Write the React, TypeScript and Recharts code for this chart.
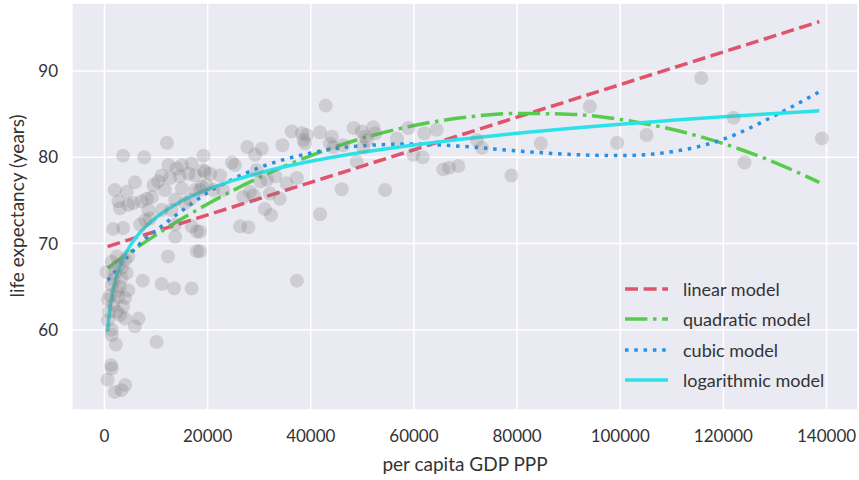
import React from "react";
import { ComposedChart, Scatter, Line, XAxis, YAxis, CartesianGrid, Label } from "recharts";

// countries: per capita GDP PPP vs life expectancy
const gdp = [
  12100, 3600, 7700, 19200, 12400, 14000, 15000, 16900, 11100, 12700, 14600, 16300, 17600, 19500,
  5900, 2000, 4300, 9500, 10400, 11700, 15000, 17600, 18900, 2700, 3000, 4600, 5600, 7200, 8200,
  9200, 13700, 15600, 16600, 8500, 8800, 7900, 11100, 13000, 1700, 3600, 6900, 13700, 16900, 17900,
  13700, 12300, 17900, 1400, 2400, 2700, 4000, 4600, 400, 2000, 4300, 3300, 7400, 11100, 13500,
  16900, 1400, 3000, 4600, 1100, 2700, 4000, 1700, 3600, 2400, 6600, 5900, 4000, 3000, 700, 1400,
  1400, 2200, 10100, 1300, 1400, 600, 2000, 3300, 4000, 1800, 700, 2400, 3400, 900,
  19200, 20500, 22400, 18500, 19800, 21100, 23000, 24700, 25300, 28200, 26900, 28900, 32100, 34000,
  35300, 37300, 33100, 31500, 29500, 30200, 26300, 27900, 31100, 32300, 27700, 30500, 34500, 29200,
  36300, 18500, 18500, 37300,
  42900, 38300, 39200, 38600, 38900, 41800, 44100, 43700, 44400, 46300, 48300, 49900, 50500, 50900,
  52100, 52500, 48900, 46000, 54400, 41800, 50200, 56700, 58900, 62000, 64400, 59900, 61700, 65700,
  66800, 68600, 72200, 73200, 78900, 84600, 94100, 99400, 105100, 115700, 122000, 124100, 139100,
];
const lifeExp = [
  81.7, 80.2, 80.0, 80.2, 79.1, 78.7, 79.1, 79.3, 77.9, 77.6, 77.8, 78.1, 77.9, 78.3,
  77.1, 76.2, 76.0, 76.8, 77.2, 76.2, 76.4, 76.2, 76.6, 74.9, 74.1, 74.5, 74.7, 74.9, 75.2,
  75.4, 75.1, 74.7, 75.1, 73.9, 72.9, 72.7, 73.9, 73.9, 71.7, 71.8, 72.2, 72.2, 72.0, 71.4,
  70.8, 68.5, 69.1, 67.9, 68.5, 67.5, 68.1, 68.5, 66.7, 66.6, 66.6, 66.0, 65.7, 65.3, 64.8,
  64.8, 65.2, 65.0, 64.6, 64.0, 63.8, 63.7, 62.9, 62.7, 62.1, 61.3, 60.4, 61.3, 61.7, 61.1, 60.0,
  59.4, 58.3, 58.6, 55.9, 55.5, 54.2, 52.8, 53.0, 53.6, 65.8, 63.5, 64.5, 67.2, 62.1,
  78.5, 78.1, 77.9, 76.2, 76.8, 76.2, 76.2, 79.4, 79.1, 76.0, 75.4, 75.6, 75.8, 75.2,
  77.0, 77.6, 77.8, 77.4, 78.5, 77.2, 72.0, 71.9, 74.0, 73.3, 81.2, 81.0, 81.4, 80.3,
  83.0, 71.4, 69.1, 65.7,
  86.0, 82.8, 82.6, 82.0, 81.6, 82.9, 82.4, 81.6, 81.2, 81.4, 83.4, 83.0, 82.4, 82.0,
  83.5, 82.8, 79.5, 76.3, 76.2, 73.4, 81.2, 82.2, 83.4, 82.8, 83.2, 80.3, 80.0, 78.6,
  78.8, 79.0, 82.0, 81.1, 77.9, 81.6, 85.9, 81.7, 82.6, 89.2, 84.6, 79.4, 82.2,
];

const curveX = [
  600, 1000, 1500, 2000, 3000, 4000, 5000, 6500, 8000, 10000, 12500, 15000, 20000, 25000, 30000,
  40000, 50000, 60000, 70000, 80000, 90000, 100000, 110000, 120000, 130000, 138600,
];
const linearFit = [
  69.65, 69.73, 69.82, 69.92, 70.11, 70.3, 70.49, 70.77, 71.05, 71.43, 71.9, 72.38, 73.32, 74.27,
  75.21, 77.1, 78.99, 80.88, 82.77, 84.66, 86.55, 88.44, 90.33, 92.22, 94.11, 95.74,
];
const quadraticFit = [
  67.16, 67.33, 67.55, 67.76, 68.19, 68.61, 69.02, 69.63, 70.23, 71.01, 71.96, 72.87, 74.6, 76.19,
  77.66, 80.2, 82.21, 83.69, 84.65, 85.09, 85.01, 84.4, 83.25, 81.59, 79.4, 77.1,
];
const cubicFit = [
  65.75, 66.0, 66.4, 66.75, 67.45, 68.15, 68.8, 69.75, 70.6, 71.5, 72.7, 73.8, 75.9, 77.5, 78.8,
  80.5, 81.35, 81.55, 81.25, 80.75, 80.35, 80.2, 80.65, 82.1, 84.85, 87.6,
];
const logFit = [
  59.8, 62.2, 64.1, 65.46, 67.36, 68.72, 69.77, 71.0, 71.97, 73.02, 74.07, 74.93, 76.28, 77.33,
  78.19, 79.54, 80.59, 81.44, 82.17, 82.8, 83.35, 83.85, 84.29, 84.7, 85.08, 85.4,
];

const xTicks = [0, 20000, 40000, 60000, 80000, 100000, 120000, 140000];
const yTicks = [60, 70, 80, 90];

const lw = 3.5;
const models = [
  { key: "linear", name: "linear model", color: "#e0536a", dash: "13 5.6" },
  { key: "quadratic", name: "quadratic model", color: "#56cc4b", dash: "22.4 5.6 3.5 5.6" },
  { key: "cubic", name: "cubic model", color: "#2391e6", dash: "3.5 5.8" },
  { key: "log", name: "logarithmic model", color: "#2ce2e8", dash: undefined as string | undefined },
];

const points = gdp.map((g, i) => ({ gdp: g, life: lifeExp[i] }));
const curves = curveX.map((g, i) => ({
  gdp: g,
  linear: linearFit[i],
  quadratic: quadraticFit[i],
  cubic: cubicFit[i],
  log: logFit[i],
}));

const font = "Lato, 'Open Sans', sans-serif";
const textColor = "#333333";

// legend sits over the plot, lower right, no frame
function ModelLegend() {
  return (
    <div style={{ position: "absolute", left: 623, top: 274, fontFamily: font, fontSize: 18, color: textColor }}>
      {models.map((m) => (
        <div key={m.key} style={{ display: "flex", alignItems: "center", height: 30.3 }}>
          <svg width={46} height={10} style={{ marginRight: 14 }}>
            <line x1={2} y1={5} x2={45} y2={5} stroke={m.color} strokeWidth={lw} strokeDasharray={m.dash} />
          </svg>
          <span>{m.name}</span>
        </div>
      ))}
    </div>
  );
}

export default function App() {
  return (
    <div style={{ position: "absolute", left: 0, top: 0, width: 859, height: 480, background: "#fff" }}>
      <ComposedChart width={859} height={480} margin={{ top: 3, right: 1, bottom: 0, left: 0 }} style={{ fontFamily: font }}>
        <CartesianGrid fill="#eaeaf2" stroke="#ffffff" strokeWidth={1.5} />
        <XAxis
          type="number"
          dataKey="gdp"
          domain={[-6300, 146100]}
          ticks={xTicks}
          allowDataOverflow
          height={70}
          axisLine={false}
          tickLine={false}
          tickSize={0}
          tickMargin={20}
          tick={{ fill: textColor, fontSize: 17 }}
        >
          <Label
            content={() => (
              <text x={465} y={471} textAnchor="middle" fill={textColor} fontSize={19} fontFamily={font}>
                per capita GDP PPP
              </text>
            )}
          />
        </XAxis>
        <YAxis
          type="number"
          domain={[50.7, 97.9]}
          ticks={yTicks}
          allowDataOverflow
          width={72}
          axisLine={false}
          tickLine={false}
          tickSize={0}
          tickMargin={14}
          tick={{ fill: textColor, fontSize: 17 }}
        >
          <Label
            content={() => (
              <text
                x={24}
                y={206}
                transform="rotate(-90 24 206)"
                textAnchor="middle"
                fill={textColor}
                fontSize={19}
                fontFamily={font}
              >
                life expectancy (years)
              </text>
            )}
          />
        </YAxis>
        <Scatter
          data={points}
          dataKey="life"
          isAnimationActive={false}
          shape={(p: any) => <circle cx={p.cx} cy={p.cy} r={7} fill="#808080" fillOpacity={0.27} />}
        />
        {models.map((m) => (
          <Line
            key={m.key}
            data={curves}
            dataKey={m.key}
            name={m.name}
            type="monotone"
            stroke={m.color}
            strokeWidth={lw}
            strokeDasharray={m.dash}
            dot={false}
            activeDot={false}
            isAnimationActive={false}
          />
        ))}
      </ComposedChart>
      <ModelLegend />
    </div>
  );
}
